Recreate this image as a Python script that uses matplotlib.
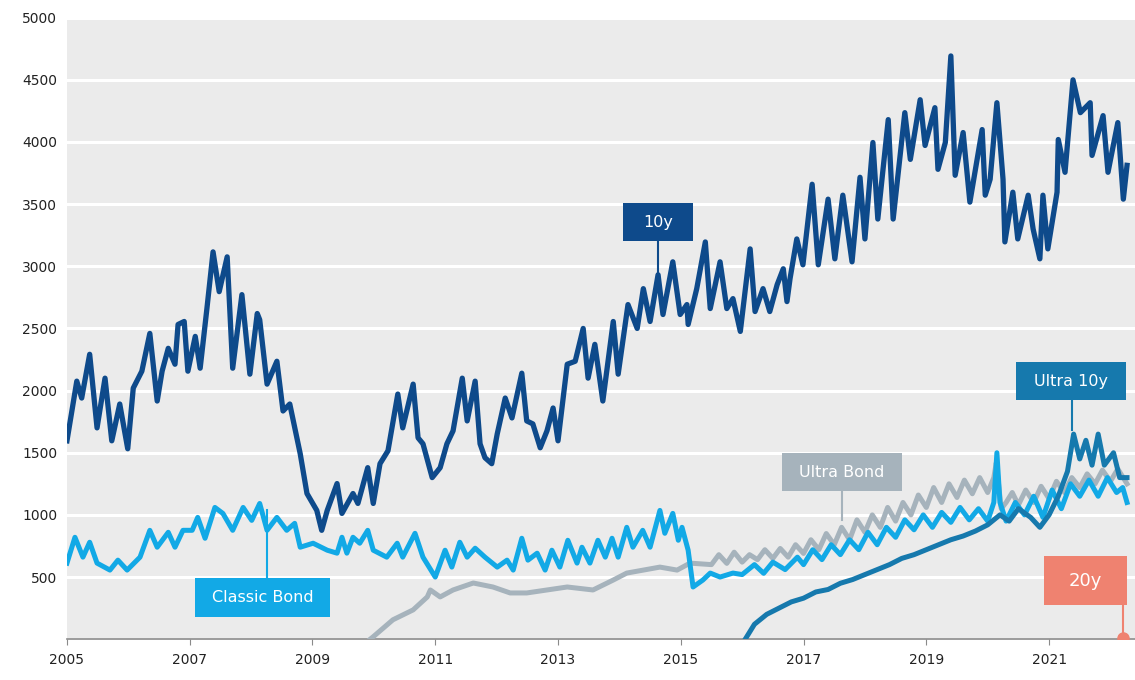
import matplotlib
matplotlib.use("Agg")
from matplotlib import pyplot as plt
from matplotlib.patches import Rectangle
import matplotlib.ticker as ticker

# 10y
t_10y = [2005.00, 2005.16, 2005.24, 2005.37, 2005.49, 2005.62, 2005.73, 2005.86, 2005.99,
         2006.08, 2006.22, 2006.35, 2006.47, 2006.55, 2006.65, 2006.76, 2006.81, 2006.91, 2006.97,
         2007.09, 2007.17, 2007.28, 2007.38, 2007.48, 2007.61, 2007.70, 2007.85, 2007.98,
         2008.10, 2008.14, 2008.26, 2008.42, 2008.52, 2008.63, 2008.80, 2008.91,
         2009.07, 2009.15, 2009.24, 2009.40, 2009.48, 2009.66, 2009.74, 2009.90, 2009.99,
         2010.10, 2010.23, 2010.39, 2010.47, 2010.64, 2010.72, 2010.80, 2010.95,
         2011.08, 2011.19, 2011.29, 2011.44, 2011.52, 2011.65, 2011.73, 2011.81, 2011.92,
         2012.01, 2012.14, 2012.25, 2012.41, 2012.49, 2012.59, 2012.71, 2012.82, 2012.92,
         2013.00, 2013.15, 2013.28, 2013.41, 2013.49, 2013.60, 2013.73, 2013.90, 2013.98,
         2014.14, 2014.29, 2014.39, 2014.50, 2014.63, 2014.71, 2014.87, 2014.99,
         2015.10, 2015.12, 2015.26, 2015.40, 2015.48, 2015.64, 2015.75, 2015.85, 2015.97,
         2016.13, 2016.21, 2016.34, 2016.45, 2016.57, 2016.67, 2016.73, 2016.78, 2016.89, 2016.99,
         2017.14, 2017.24, 2017.40, 2017.51, 2017.64, 2017.79, 2017.92, 2018.00,
         2018.13, 2018.21, 2018.38, 2018.46, 2018.65, 2018.74, 2018.90, 2018.98,
         2019.14, 2019.19, 2019.31, 2019.40, 2019.47, 2019.60, 2019.71, 2019.91, 2019.96,
         2020.04, 2020.15, 2020.25, 2020.28, 2020.41, 2020.49, 2020.66, 2020.74, 2020.85, 2020.90, 2020.98,
         2021.13, 2021.15, 2021.26, 2021.39, 2021.51, 2021.67, 2021.70, 2021.88, 2021.96,
         2022.12, 2022.21, 2022.27]
v_10y = [1596, 2076, 1940, 2292, 1700, 2100, 1596, 1892, 1532,
         2020, 2156, 2460, 1916, 2156, 2340, 2212, 2532, 2556, 2156,
         2436, 2180, 2660, 3116, 2796, 3076, 2180, 2772, 2132,
         2620, 2570, 2052, 2236, 1836, 1892, 1492, 1172,
         1036, 876, 1036, 1252, 1012, 1172, 1092, 1380, 1092,
         1412, 1516, 1972, 1700, 2052, 1620, 1572, 1300,
         1380, 1572, 1676, 2100, 1756, 2076, 1572, 1460, 1412,
         1652, 1940, 1780, 2140, 1756, 1732, 1540, 1676, 1860,
         1596, 2212, 2236, 2500, 2100, 2372, 1916, 2556, 2132,
         2692, 2500, 2820, 2556, 2932, 2612, 3036, 2612,
         2692, 2532, 2820, 3196, 2660, 3036, 2660, 2740, 2476,
         3140, 2636, 2820, 2636, 2852, 2980, 2716, 2900, 3220, 3012,
         3660, 3012, 3540, 3060, 3572, 3036, 3716, 3220,
         3996, 3380, 4180, 3380, 4236, 3860, 4340, 3972,
         4276, 3780, 3996, 4692, 3732, 4076, 3516, 4100, 3572,
         3700, 4316, 3700, 3196, 3596, 3220, 3572, 3300, 3060, 3572, 3140,
         3596, 4020, 3756, 4500, 4236, 4316, 3892, 4212, 3756,
         4156, 3540, 3812]

# Classic Bond
t_classic = [2005.00, 2005.13, 2005.26, 2005.37, 2005.49, 2005.70, 2005.83, 2005.98,
             2006.19, 2006.35, 2006.47, 2006.65, 2006.76, 2006.89, 2007.04, 2007.13, 2007.25,
             2007.41, 2007.54, 2007.70, 2007.87, 2008.01, 2008.14, 2008.26, 2008.42, 2008.58,
             2008.71, 2008.80, 2009.01, 2009.24, 2009.40, 2009.48, 2009.56, 2009.66, 2009.77,
             2009.90, 2009.99, 2010.21, 2010.38, 2010.47, 2010.67, 2010.80, 2011.00, 2011.16,
             2011.27, 2011.40, 2011.52, 2011.65, 2011.81, 2012.01, 2012.17, 2012.27, 2012.41,
             2012.51, 2012.66, 2012.79, 2012.90, 2013.03, 2013.16, 2013.31, 2013.39, 2013.52,
             2013.65, 2013.77, 2013.88, 2013.98, 2014.12, 2014.22, 2014.38, 2014.50, 2014.66,
             2014.74, 2014.87, 2014.96, 2015.02, 2015.12, 2015.20, 2015.36, 2015.48, 2015.64,
             2015.85, 2016.00, 2016.20, 2016.35, 2016.50, 2016.70, 2016.90, 2017.00, 2017.15,
             2017.30, 2017.45, 2017.60, 2017.75, 2017.90, 2018.05, 2018.20, 2018.35, 2018.50,
             2018.65, 2018.80, 2018.95, 2019.10, 2019.25, 2019.40, 2019.55, 2019.70, 2019.85,
             2020.00, 2020.10, 2020.15, 2020.20, 2020.30, 2020.45, 2020.60, 2020.75, 2020.90,
             2021.05, 2021.20, 2021.35, 2021.50, 2021.65, 2021.80, 2021.95, 2022.10, 2022.20, 2022.27]
v_classic = [612, 820, 660, 780, 612, 556, 636, 556,
             660, 876, 740, 860, 740, 876, 876, 980, 812,
             1060, 1012, 876, 1060, 956, 1092, 876, 980, 876,
             932, 740, 772, 716, 692, 820, 692, 820, 772,
             876, 716, 660, 772, 660, 852, 660, 500, 716,
             580, 780, 660, 732, 660, 580, 636, 556, 812,
             636, 692, 556, 716, 580, 796, 612, 740, 612,
             796, 660, 812, 660, 900, 740, 876, 740, 1036,
             852, 1012, 796, 900, 716, 420, 476, 532, 500,
             532, 520, 600, 530, 620, 560, 660, 600, 720,
             640, 760, 680, 800, 720, 860, 760, 900, 820,
             960, 880, 1000, 900, 1020, 940, 1060, 960, 1050,
             950, 1100, 1500, 1100, 950, 1100, 1000, 1150, 980,
             1200, 1050, 1250, 1150, 1280, 1150, 1300, 1180, 1220, 1100]

# Ultra Bond
t_ultra = [2009.94, 2009.99, 2010.31, 2010.64, 2010.87, 2010.92, 2011.08, 2011.29, 2011.62,
           2011.94, 2012.22, 2012.49, 2012.82, 2013.15, 2013.57, 2013.90, 2014.12, 2014.39,
           2014.66, 2014.94, 2015.15, 2015.50, 2015.62, 2015.75, 2015.87,
           2016.00, 2016.12, 2016.25, 2016.37, 2016.50, 2016.62, 2016.75, 2016.87,
           2017.00, 2017.12, 2017.25, 2017.37, 2017.50, 2017.62, 2017.75, 2017.87,
           2018.00, 2018.12, 2018.25, 2018.37, 2018.50, 2018.62, 2018.75, 2018.87,
           2019.00, 2019.12, 2019.25, 2019.37, 2019.50, 2019.62, 2019.75, 2019.87,
           2020.00, 2020.10, 2020.14, 2020.22, 2020.30, 2020.40, 2020.50, 2020.62, 2020.75, 2020.87,
           2021.00, 2021.12, 2021.25, 2021.37, 2021.50, 2021.62, 2021.75, 2021.87,
           2022.00, 2022.12, 2022.27]
v_ultra = [0, 20, 156, 236, 340, 396, 340, 396, 452,
           420, 372, 372, 396, 420, 396, 476, 532, 556,
           580, 556, 612, 600, 680, 610, 700,
           620, 680, 640, 720, 650, 730, 660, 760,
           690, 800, 720, 850, 760, 900, 800, 960,
           860, 1000, 900, 1060, 950, 1100, 1000, 1160,
           1060, 1220, 1100, 1250, 1140, 1280, 1170, 1300,
           1180, 1300, 1420, 1050, 1100, 1180, 1080, 1200, 1100, 1230,
           1130, 1270, 1180, 1300, 1220, 1330, 1250, 1360,
           1270, 1370, 1250]

# Ultra 10y
t_u10 = [2016.05, 2016.20, 2016.40, 2016.60, 2016.80, 2017.00, 2017.20, 2017.40, 2017.60,
         2017.80, 2018.00, 2018.20, 2018.40, 2018.60, 2018.80, 2019.00, 2019.20, 2019.40,
         2019.60, 2019.80, 2020.00, 2020.20, 2020.35, 2020.50, 2020.70, 2020.85, 2021.00,
         2021.15, 2021.30, 2021.40, 2021.50, 2021.60, 2021.70, 2021.80, 2021.90, 2022.05,
         2022.15, 2022.27]
v_u10 = [0, 120, 200, 250, 300, 330, 380, 400, 450,
         480, 520, 560, 600, 650, 680, 720, 760, 800,
         830, 870, 920, 1000, 950, 1050, 980, 900, 1000,
         1150, 1350, 1650, 1450, 1600, 1400, 1650, 1400, 1500,
         1300, 1300]

# 20y
t_20y = [2022.21]
v_20y = [10]

years = list(range(2005, 2022, 2))

c_10y = '#0e4a8b'
c_classic = '#12a9e6'
c_ultra = '#a6b3bc'
c_u10 = '#1679ad'
c_20y = '#ef8270'

fig = plt.figure(figsize=(11.35, 6.8), dpi=100)
ax = fig.add_axes([0.059, 0.06, 0.941, 0.914])
ax.set_facecolor('#ebebeb')

ax.plot(t_ultra, v_ultra, color=c_ultra, linewidth=3.6, zorder=3)
ax.plot(t_classic, v_classic, color=c_classic, linewidth=3.6, zorder=4)
ax.plot(t_u10, v_u10, color=c_u10, linewidth=3.6, zorder=5)
ax.plot(t_10y, v_10y, color=c_10y, linewidth=3.8, zorder=6)
ax.plot(t_20y, v_20y, 'o', color=c_20y, markersize=8, zorder=7)

ax.set_xlim(2005, 2022.4)
ax.set_ylim(0, 5000)
ax.set_xticks(years)
ax.set_xticklabels([str(y) for y in years])
ax.yaxis.set_major_locator(ticker.MultipleLocator(500))
ax.yaxis.set_major_formatter(ticker.FuncFormatter(lambda v, p: '' if v == 0 else '%d' % v))
ax.grid(axis='y', color='white', linewidth=2.2)
ax.set_axisbelow(True)
for s in ['top', 'right', 'left']:
    ax.spines[s].set_visible(False)
ax.spines['bottom'].set_color('#8a8a8a')
ax.spines['bottom'].set_linewidth(1.2)
ax.tick_params(axis='y', length=0, pad=7, labelsize=10, labelcolor='#222222')
ax.tick_params(axis='x', length=4, color='#8a8a8a', pad=6, labelsize=10, labelcolor='#222222')

# label boxes: (x0, x1, y0, y1, text, colour, line x, line y0, line y1)
boxes = [
    (2014.06, 2015.20, 3203, 3509, '10y', c_10y, 2014.63, 3203, 2930),
    (2007.09, 2009.29, 177, 491, 'Classic Bond', c_classic, 2008.26, 491, 1038),
    (2016.65, 2018.60, 1191, 1497, 'Ultra Bond', c_ultra, 2017.63, 1191, 958),
    (2020.46, 2022.25, 1924, 2229, 'Ultra 10y', c_u10, 2021.37, 1924, 1682),
    (2020.92, 2022.27, 274, 668, '20y', c_20y, 2022.21, 274, 10),
]
for x0, x1, y0, y1, txt, col, lx, ly0, ly1 in boxes:
    ax.plot([lx, lx], [ly0, ly1], color=col, linewidth=1.5, zorder=8)
    ax.add_patch(Rectangle((x0, y0), x1 - x0, y1 - y0, facecolor=col, edgecolor='none', zorder=9))
    ax.text((x0 + x1) / 2, (y0 + y1) / 2, txt, color='white', fontsize=13 if txt == '20y' else 11.5,
            ha='center', va='center', zorder=10)

fig.savefig('out.png', dpi=100, facecolor='white')
